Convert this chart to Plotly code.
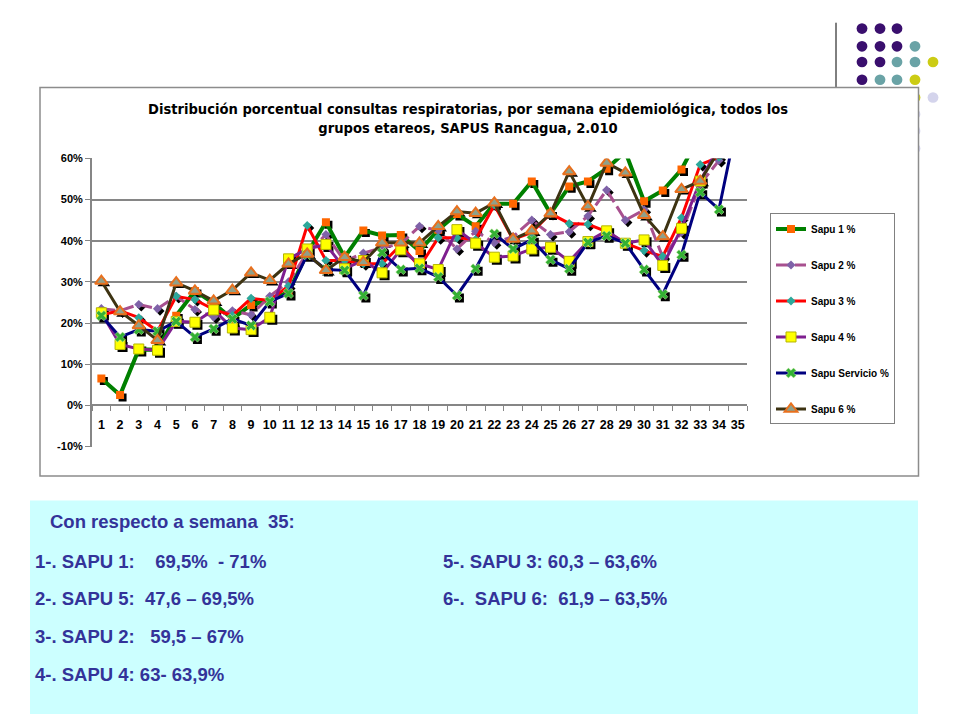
import plotly.graph_objects as go

# ---------------- data ----------------
weeks = [str(i) for i in range(1, 36)]

sapu1 = [6.5, 2.5, 13.6, 13.5, 21.8, 27.8, 24.8, 21.0, 24.4, 25.6, 27.5, 37.0, 44.5, 36.0, 42.5,
         41.3, 41.4, 37.5, 42.7, 46.5, 43.5, 49.0, 49.0, 54.4, 46.6, 53.2, 54.4, 57.5, 61.6, 49.6,
         52.2, 57.3, 66.0, 69.5, 71.0]
sapu2 = [23.5, 23.0, 24.5, 23.5, 26.5, 23.3, 21.5, 23.0, 22.0, 26.5, 30.0, 37.0, 41.5, 35.0, 37.0,
         38.3, 39.2, 43.5, 42.5, 38.0, 42.3, 39.5, 41.0, 45.0, 41.5, 42.2, 46.0, 52.3, 45.0, 47.5,
         36.0, 42.0, 53.7, 59.5, 67.0]
sapu3 = [22.0, 23.0, 21.3, 18.0, 26.5, 25.7, 23.3, 21.8, 26.0, 25.5, 29.0, 43.7, 35.2, 35.2, 34.4,
         34.4, 39.0, 33.6, 40.7, 40.7, 40.3, 48.7, 40.3, 42.0, 46.6, 44.2, 44.0, 42.2, 39.4, 37.6,
         36.2, 45.6, 58.5, 60.3, 63.6]
sapu4 = [22.5, 14.8, 13.7, 13.4, 20.4, 20.2, 23.2, 18.8, 18.4, 21.4, 35.6, 38.0, 39.1, 33.2, 35.2,
         32.2, 37.8, 34.4, 33.0, 42.7, 39.4, 36.0, 36.3, 38.0, 38.4, 35.0, 39.8, 42.4, 39.4, 40.2,
         34.0, 43.0, 54.5, 63.0, 63.9]
servicio = [21.8, 16.6, 18.4, 18.0, 20.4, 16.6, 18.6, 21.0, 19.4, 25.2, 27.2, 36.6, 33.0, 32.8, 26.7,
            37.1, 33.0, 33.3, 31.2, 26.7, 33.2, 41.7, 38.0, 40.2, 35.4, 33.2, 39.6, 41.2, 39.4, 33.0,
            27.0, 36.6, 51.8, 47.6, 69.5]
sapu6 = [30.2, 22.8, 19.4, 15.8, 29.8, 27.8, 25.4, 28.0, 32.2, 30.4, 34.4, 36.8, 32.8, 36.0, 34.8,
         39.5, 39.5, 39.5, 43.5, 47.1, 46.7, 49.2, 40.4, 42.4, 46.6, 56.8, 48.3, 58.9, 56.5, 46.2,
         41.0, 52.5, 54.5, 61.9, 63.5]

series_names = ["Sapu 1 %", "Sapu 2 %", "Sapu 3 %", "Sapu 4 %", "Sapu Servicio %", "Sapu 6 %"]
series_values = [sapu1, sapu2, sapu3, sapu4, servicio, sapu6]

y_ticks = [-10, 0, 10, 20, 30, 40, 50, 60]
y_tick_labels = ["-10%", "0%", "10%", "20%", "30%", "40%", "50%", "60%"]

title_text = ("Distribución porcentual consultas respiratorias, por semana epidemiológica, todos los"
              "<br>grupos etareos, SAPUS Rancagua, 2.010")

note_lines_left = ["1-. SAPU 1:    69,5%  - 71%", "2-. SAPU 5:  47,6 – 69,5%",
                   "3-. SAPU 2:   59,5 – 67%", "4-. SAPU 4: 63- 63,9%"]
note_lines_right = ["5-. SAPU 3: 60,3 – 63,6%", "6-.  SAPU 6:  61,9 – 63,5%"]
note_header = "Con respecto a semana  35:"

# ---------------- styles ----------------
W, H = 960, 720
def X(px): return px / W
def Y(py): return 1 - py / H

styles = [
    dict(line=dict(color="#008000", width=4),
         marker=dict(symbol="square", size=8, color="#ff6600")),
    dict(line=dict(color="#a8508f", width=3, dash="14px,5px"),
         marker=dict(symbol="diamond", size=7, color="#7f62a8")),
    dict(line=dict(color="#ff0000", width=3),
         marker=dict(symbol="diamond", size=7, color="#2ca89a")),
    dict(line=dict(color="#7f1f8f", width=3),
         marker=dict(symbol="square", size=10, color="#ffff00", line=dict(color="#b5b500", width=1))),
    dict(line=dict(color="#00007f", width=3),
         marker=dict(symbol="x", size=9, color="#33b033", line=dict(color="#d8f0b0", width=0.5))),
    dict(line=dict(color="#3d3312", width=3),
         marker=dict(symbol="triangle-up", size=11, color="#8fa08a", line=dict(color="#e8701e", width=2))),
]
shadow_sizes = [8, 7, 7, 10, 9, 11]
shadow_symbols = ["square", "diamond", "diamond", "square", "square", "triangle-up"]

fig = go.Figure()

# dummy trace so base axes exist
fig.add_trace(go.Scatter(x=weeks, y=[None] * len(weeks), xaxis="x", yaxis="y",
                         showlegend=False, hoverinfo="skip"))

# shadows (shifted overlay axes)
for vals, sz, sym in zip(series_values, shadow_sizes, shadow_symbols):
    fig.add_trace(go.Scatter(x=weeks, y=vals, mode="markers", xaxis="x2", yaxis="y2",
                             marker=dict(symbol=sym, size=sz, color="black"),
                             showlegend=False, hoverinfo="skip"))

# main series
for i, (name, vals, st) in enumerate(zip(series_names, series_values, styles)):
    fig.add_trace(go.Scatter(x=weeks, y=vals, name=name, mode="lines+markers",
                             xaxis="x3", yaxis="y3", legendgroup=f"g{i}",
                             line=st["line"], marker=st["marker"]))

x_dom = [X(92), X(747)]
y_dom = [Y(448), Y(155)]
plot_w = 747 - 92
plot_h = 448 - 155
cat_px = plot_w / 35
pct_px = plot_h / 70
dx = 2.5 / cat_px
dy = 2.5 / pct_px
zero_pos = Y(448 - 10 * pct_px)

tick_font = dict(family="Arial", size=11, color="black", weight="bold")

fig.update_layout(
    width=W, height=H, margin=dict(l=0, r=0, t=0, b=0),
    paper_bgcolor="white", plot_bgcolor="rgba(0,0,0,0)",
    showlegend=True,
    xaxis=dict(domain=x_dom, type="category", categoryorder="array", categoryarray=weeks,
               range=[-0.5, 34.5], anchor="free", position=zero_pos,
               showline=True, linecolor="#868686", linewidth=2,
               ticks="outside", tickson="boundaries", ticklen=5, tickcolor="#868686",
               showgrid=False, tickangle=0,
               tickfont=dict(family="Arial", size=12.5, color="black", weight="bold"),
               ticklabelstandoff=8),
    yaxis=dict(domain=y_dom, range=[-10, 60], tickvals=y_ticks, ticktext=y_tick_labels,
               showgrid=True, gridcolor="#868686", gridwidth=2, zeroline=False,
               showline=True, linecolor="#868686", linewidth=2, ticks="outside", ticklen=5,
               tickcolor="#868686", tickfont=tick_font, anchor="x"),
    xaxis2=dict(overlaying="x", type="category", categoryorder="array", categoryarray=weeks,
                range=[-0.5 - dx, 34.5 - dx], visible=False, anchor="y2"),
    yaxis2=dict(overlaying="y", range=[-10 + dy, 60 + dy], visible=False, anchor="x2"),
    xaxis3=dict(overlaying="x", type="category", categoryorder="array", categoryarray=weeks,
                range=[-0.5, 34.5], visible=False, anchor="y3"),
    yaxis3=dict(overlaying="y", range=[-10, 60], visible=False, anchor="x3"),
    legend=dict(x=X(770), y=Y(211), xanchor="left", yanchor="top",
                bordercolor="#808080", borderwidth=1, bgcolor="white",
                font=dict(family="Arial", size=10, color="black", weight="bold"),
                tracegroupgap=17, itemwidth=30),
)

shapes = []
# bottom cyan panel
shapes.append(dict(type="rect", xref="paper", yref="paper", x0=X(30), x1=X(918), y0=Y(720), y1=Y(503),
                   fillcolor="#ccffff", line=dict(width=0), layer="below"))
# decorative dots
purple, teal, yellow, lav = "#3a0f6e", "#6aa3a6", "#cccc14", "#d4d4ec"
cols = [862, 880, 897, 915, 933]
rows = [23, 41, 57, 75, 93, 110, 127, 145]
dot_colors = [
    [purple, purple, purple, None, None],
    [purple, purple, purple, teal, None],
    [purple, purple, teal, teal, yellow],
    [purple, teal, teal, yellow, None],
    [None, None, None, yellow, lav],
    [None, None, None, lav, None],
    [None, None, None, lav, None],
    [None, None, None, lav, None],
]
r = 5.4
for ry, rowc in zip(rows, dot_colors):
    for cx, c in zip(cols, rowc):
        if c:
            shapes.append(dict(type="circle", xref="paper", yref="paper",
                               x0=X(cx - r), x1=X(cx + r), y0=Y(ry + r), y1=Y(ry - r),
                               fillcolor=c, line=dict(width=0), layer="below"))
# vertical decorative line
shapes.append(dict(type="line", xref="paper", yref="paper", x0=X(836), x1=X(836), y0=Y(17), y1=Y(83),
                   line=dict(color="black", width=1), layer="below"))
# chart box
shapes.append(dict(type="rect", xref="paper", yref="paper", x0=X(40), x1=X(918.5), y0=Y(478), y1=Y(83),
                   fillcolor="white", line=dict(color="#8c8c8c", width=1.5), layer="below"))
fig.update_layout(shapes=shapes)

annotations = [
    dict(text=title_text, x=X(468), y=Y(114), xref="paper", yref="paper", showarrow=False,
         xanchor="center", yanchor="middle", align="center",
         font=dict(family="DejaVu Sans Condensed", size=14.6, color="black", weight="bold")),
]
note_font = dict(family="Arial", size=18.5, color="#333399", weight="bold")
annotations.append(dict(text=note_header.replace(" ", "\u00a0"), x=X(48), y=Y(524), xref="paper", yref="paper",
                        showarrow=False, xanchor="left", yanchor="middle", font=note_font))
for txt, py in zip(note_lines_left, [565, 603, 641, 680]):
    annotations.append(dict(text=txt.replace(" ", "\u00a0"), x=X(33), y=Y(py), xref="paper", yref="paper",
                            showarrow=False, xanchor="left", yanchor="middle", font=note_font))
for txt, py in zip(note_lines_right, [565, 603]):
    annotations.append(dict(text=txt.replace(" ", "\u00a0"), x=X(441), y=Y(py), xref="paper", yref="paper",
                            showarrow=False, xanchor="left", yanchor="middle", font=note_font))
fig.update_layout(annotations=annotations)

fig.write_html("out.html", config={"displayModeBar": False},
               post_script="document.body.style.margin='0';document.body.style.overflow='hidden';")
